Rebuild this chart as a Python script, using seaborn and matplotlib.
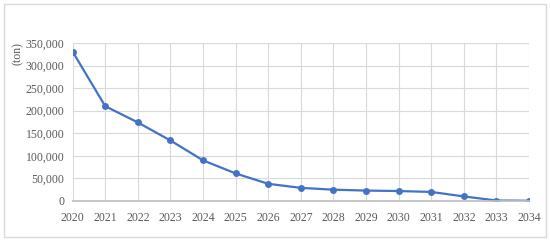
import pandas as pd
import matplotlib.pyplot as plt
import seaborn as sns
from matplotlib.patches import Rectangle
from matplotlib.ticker import FuncFormatter

# data
years = [2020, 2021, 2022, 2023, 2024, 2025, 2026, 2027,
         2028, 2029, 2030, 2031, 2032, 2033, 2034]
tons = [331000, 210000, 174000, 134000, 90000, 61000, 38000, 29000,
        25000, 23000, 22000, 20000, 10000, 1000, 500]
y_ticks = [0, 50000, 100000, 150000, 200000, 250000, 300000, 350000]

df = pd.DataFrame({'year': years, 'ton': tons})

sns.set_theme(style='white')
plt.rcParams['font.family'] = ['Liberation Serif', 'DejaVu Serif']

fig = plt.figure(figsize=(5.5, 2.43), dpi=100)
ax = fig.add_axes([0.132, 0.173, 0.83, 0.65])

# outer chart frame
fig.patches.append(Rectangle((0.008, 0.025), 0.984, 0.96, transform=fig.transFigure,
                             fill=False, edgecolor='#d9d9d9', linewidth=1))

sns.lineplot(data=df, x='year', y='ton', ax=ax, color='#4472C4', linewidth=1.6,
             marker='o', markersize=5, markeredgewidth=0)

ax.set_xlim(2020, 2034)
ax.set_ylim(0, 350000)
ax.set_xticks(years)
ax.set_yticks(y_ticks)
ax.yaxis.set_major_formatter(FuncFormatter(lambda v, p: f'{int(v):,}'))
ax.grid(True, color='#d9d9d9', linewidth=0.8)
ax.set_axisbelow(True)
for s in ['top', 'right', 'left']:
    ax.spines[s].set_visible(False)
ax.spines['bottom'].set_color('#bfbfbf')
ax.tick_params(axis='both', length=0, labelsize=8.5, colors='#595959')
ax.tick_params(axis='x', pad=8)
ax.tick_params(axis='y', pad=6)
ax.set_xlabel('')
ax.set_ylabel('')
fig.text(0.033, 0.78, '(ton)', rotation=90, fontsize=8.5, color='#595959',
         ha='center', va='center')

fig.savefig('out.png', dpi=100)
